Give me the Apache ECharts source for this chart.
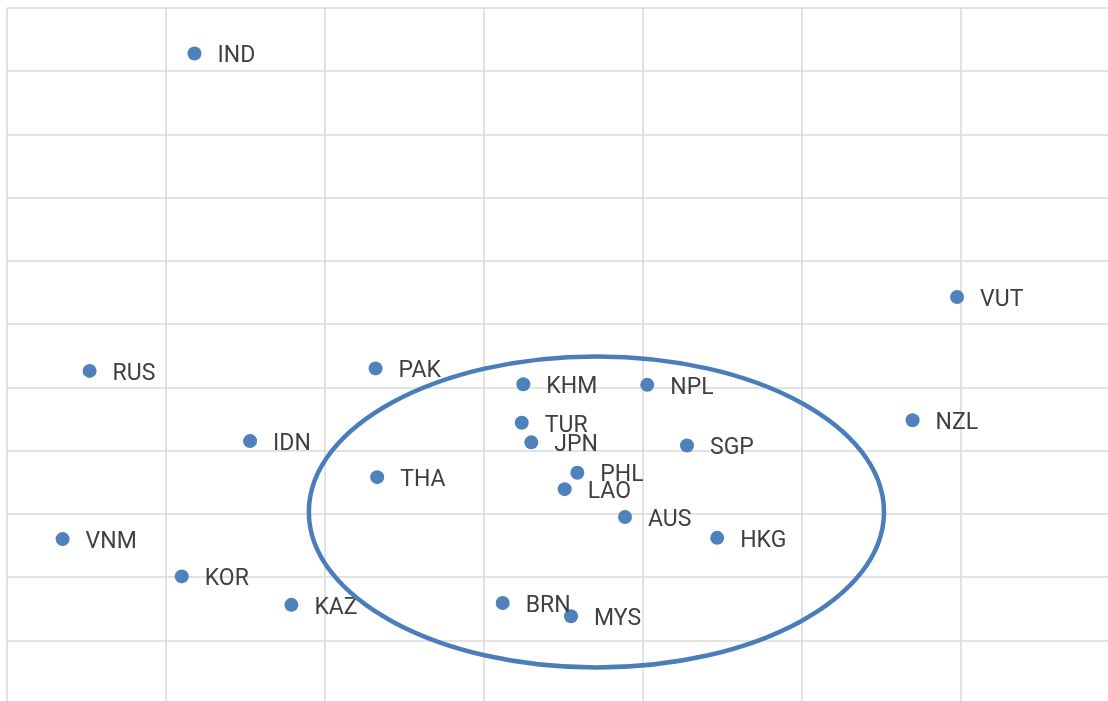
<!DOCTYPE html>
<html>
<head>
<meta charset="UTF-8">
<title>scatter</title>
<script src="https://cdn.jsdelivr.net/npm/echarts@6/dist/echarts.min.js"></script>
<style>
  html, body { margin: 0; padding: 0; background: #fff; }
</style>
</head>
<body>
<div id="chart" style="width:1108px;height:701px;"></div>
<script>
// country codes and position (grid units)
var names = ['IND', 'VUT', 'RUS', 'PAK', 'KHM', 'NPL', 'NZL', 'TUR', 'IDN', 'JPN', 'SGP',
             'THA', 'PHL', 'LAO', 'AUS', 'VNM', 'HKG', 'KOR', 'KAZ', 'BRN', 'MYS'];
var xs = [1.18, 5.98, 0.52, 2.32, 3.25, 4.03, 5.70, 3.24, 1.53, 3.30, 4.28,
          2.33, 3.59, 3.51, 3.89, 0.35, 4.47, 1.10, 1.79, 3.12, 3.55];
var ys = [10.28, 6.43, 5.26, 5.30, 5.05, 5.04, 4.48, 4.44, 4.15, 4.13, 4.08,
          3.58, 3.65, 3.39, 2.95, 2.60, 2.62, 2.01, 1.56, 1.59, 1.38];
// highlighted cluster: center x, center y, radius x, radius y
var cluster = [3.71, 3.03, 1.81, 2.46];

var chart = echarts.init(document.getElementById('chart'));

var pts = [];
for (var i = 0; i < names.length; i++) {
  pts.push({ value: [xs[i], ys[i]], name: names[i] });
}

var split = { show: true, lineStyle: { color: '#d9d9d9', width: 1.5 } };

var option = {
  animation: false,
  grid: { left: 7, top: 8, width: 1271, height: 695.5, outerBoundsMode: 'none', containLabel: false },
  xAxis: {
    type: 'value', min: 0, max: 8, interval: 1,
    axisLine: { show: false }, axisTick: { show: false }, axisLabel: { show: false },
    splitLine: split
  },
  yAxis: {
    type: 'value', min: 0, max: 11, interval: 1,
    axisLine: { show: false }, axisTick: { show: false }, axisLabel: { show: false },
    splitLine: split
  },
  series: [
    {
      type: 'scatter',
      data: pts,
      symbolSize: 14,
      itemStyle: { color: '#4f81bd', opacity: 1 },
      label: {
        show: true,
        position: 'right',
        distance: 15,
        offset: [1, 3],
        formatter: '{b}',
        color: '#404040',
        fontFamily: 'Roboto',
        fontSize: 23
      },
      z: 2
    },
    {
      type: 'custom',
      data: [cluster],
      z: 5,
      silent: true,
      renderItem: function (params, api) {
        var c = api.coord([api.value(0), api.value(1)]);
        var s = api.size([api.value(2), api.value(3)]);
        return {
          type: 'ellipse',
          shape: { cx: c[0], cy: c[1], rx: s[0], ry: s[1] },
          style: { fill: 'none', stroke: '#4a7ebb', lineWidth: 4.5 }
        };
      }
    }
  ]
};
chart.setOption(option);
</script>
</body>
</html>
